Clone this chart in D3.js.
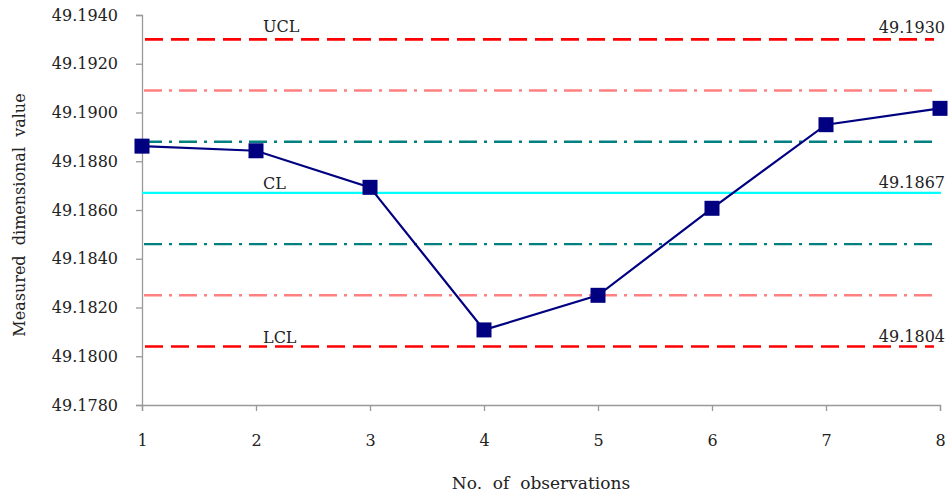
<!DOCTYPE html>
<html><head><meta charset="utf-8">
<script src="https://cdn.jsdelivr.net/npm/d3@7"></script>
<style>body{margin:0;background:#fff}svg{display:block}</style>
</head><body>
<svg id="c" width="949" height="496"></svg>
<script>
const observations = [1,2,3,4,5,6,7,8];
const measured = [49.18862, 49.18843, 49.18693, 49.18108, 49.18250, 49.18607, 49.18950, 49.19017];
const yTicks = [49.1780,49.1800,49.1820,49.1840,49.1860,49.1880,49.1900,49.1920,49.1940];
const controlNames = ["UCL","CL","LCL"];
const controlValues = [49.1930, 49.1867, 49.1804];
const sigmaValues = [49.1909, 49.1888, 49.1846, 49.1825];
const sigmaKinds = ["2s","1s","1s","2s"];

const svg = d3.select("#c");
const font = "'DejaVu Serif','Liberation Serif',serif";
const x = d3.scaleLinear().domain([1,8]).range([142,940]);
const y = d3.scaleLinear().domain([49.1780,49.1940]).range([405,15]);

// axes
const xAxis = svg.append("g").attr("transform","translate(0,405)")
  .call(d3.axisBottom(x).tickValues(observations).tickFormat(d3.format("d")).tickSizeOuter(0).tickSize(6));
const yAxis = svg.append("g").attr("transform","translate(142,0)")
  .call(d3.axisLeft(y).tickValues(yTicks).tickFormat(d3.format(".4f")).tickSizeOuter(0).tickSize(6));
[xAxis,yAxis].forEach(a=>{
  a.selectAll("path,line").attr("stroke","#999").attr("stroke-width",1.3);
  a.selectAll("text").attr("fill","#222").style("font-family",font).style("font-size","16px");
});
xAxis.selectAll("text").attr("y",41).attr("dy",null);
yAxis.selectAll("text").attr("x",-24);

// sigma lines
const sigCol = {"1s":"#008080","2s":"#ff8080"};
svg.append("g").selectAll("line").data(sigmaValues).join("line")
  .attr("x1",x(1)+2).attr("x2",x(8)-6)
  .attr("y1",d=>y(d)).attr("y2",d=>y(d))
  .attr("stroke",(d,i)=>sigCol[sigmaKinds[i]]).attr("stroke-width",2.4)
  .attr("stroke-dasharray","18,7,3,7");

// control lines
svg.append("g").selectAll("line").data(controlValues).join("line")
  .attr("x1",(d,i)=>controlNames[i]==="CL"?x(1):x(1)+3).attr("x2",(d,i)=>controlNames[i]==="CL"?x(8)+1:x(8)-6)
  .attr("y1",d=>y(d)).attr("y2",d=>y(d))
  .attr("stroke",(d,i)=>controlNames[i]==="CL"?"#00ffff":"#ff0000")
  .attr("stroke-width",(d,i)=>controlNames[i]==="CL"?2.2:2.6)
  .attr("stroke-dasharray",(d,i)=>controlNames[i]==="CL"?null:"18,8");

// control labels
svg.append("g").selectAll("text").data(controlValues).join("text")
  .attr("x",263).attr("y",(d,i)=>y(d)-(controlNames[i]==="UCL"?7:4))
  .style("font-family",font).style("font-size","16px").attr("fill","#222")
  .text((d,i)=>controlNames[i]);
svg.append("g").selectAll("text").data(controlValues).join("text")
  .attr("x",945).attr("y",(d,i)=>y(d)-(controlNames[i]==="UCL"?6:5)).attr("text-anchor","end")
  .style("font-family",font).style("font-size","16px").attr("fill","#222")
  .text(d=>d.toFixed(4));

// data line
const line = d3.line().x((d,i)=>x(observations[i])).y(d=>y(d));
svg.append("path").datum(measured).attr("d",line)
  .attr("fill","none").attr("stroke","#000080").attr("stroke-width",2.2);
svg.append("g").selectAll("rect").data(measured).join("rect")
  .attr("x",(d,i)=>x(observations[i])-7.5).attr("y",d=>y(d)-7.5)
  .attr("width",15).attr("height",15).attr("fill","#000080");

// titles
svg.append("text").attr("transform","translate(25,215) rotate(-90)")
  .attr("text-anchor","middle").style("font-family",font).style("font-size","16px")
  .attr("fill","#222").style("white-space","pre").text("Measured  dimensional  value");
svg.append("text").attr("x",541).attr("y",489).attr("text-anchor","middle")
  .style("font-family",font).style("font-size","17px").attr("fill","#222")
  .style("white-space","pre").text("No.  of  observations");
</script>
</body></html>
